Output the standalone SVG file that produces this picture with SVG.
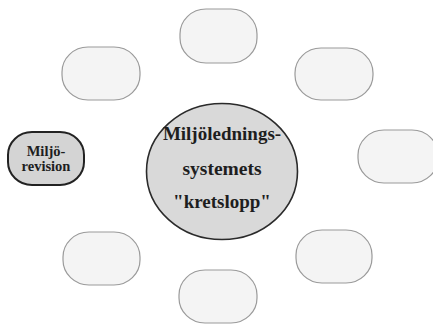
<svg xmlns="http://www.w3.org/2000/svg" width="433" height="325" viewBox="0 0 433 325">
  <style>
    .slot { fill: #f4f4f4; stroke: #9a9a9a; stroke-width: 1.2; }
    .core { fill: #d9d9d9; stroke: #2a2a2a; stroke-width: 1.6; }
    .audit { fill: #d4d4d4; stroke: #222; stroke-width: 2; }
    .lbl { font-family: "Liberation Serif", "Times New Roman", serif; font-weight: bold; fill: #1e1e1e; text-anchor: middle; }
  </style>
  <rect width="433" height="325" fill="#ffffff"/>

  <!-- empty process slots around the cycle -->
  <g id="slot-top"><rect class="slot" x="180" y="9" width="77" height="54" rx="26" ry="25"/></g>
  <g id="slot-upper-left"><rect class="slot" x="62" y="47" width="78" height="53" rx="26" ry="25"/></g>
  <g id="slot-upper-right"><rect class="slot" x="295" y="48" width="78" height="52" rx="26" ry="25"/></g>
  <g id="slot-right"><rect class="slot" x="358" y="130" width="80" height="53" rx="26" ry="25"/></g>
  <g id="slot-lower-left"><rect class="slot" x="63" y="232" width="77" height="53" rx="26" ry="25"/></g>
  <g id="slot-lower-right"><rect class="slot" x="296" y="230" width="76" height="53" rx="26" ry="25"/></g>
  <g id="slot-bottom"><rect class="slot" x="179" y="270" width="78" height="53" rx="26" ry="25"/></g>

  <!-- central cycle -->
  <g id="core">
    <ellipse class="core" cx="222" cy="171.5" rx="75.5" ry="68"/>
    <text class="lbl" x="222" y="140" font-size="19">Miljölednings-</text>
    <text class="lbl" x="222" y="175" font-size="19.5">systemets</text>
    <text class="lbl" x="222" y="208" font-size="19">"kretslopp"</text>
  </g>

  <!-- environmental audit -->
  <g id="audit">
    <rect class="audit" x="8" y="132" width="76" height="53" rx="24" ry="23"/>
    <text class="lbl" x="46" y="156" font-size="14.5">Miljö-</text>
    <text class="lbl" x="46" y="171" font-size="14.5">revision</text>
  </g>
</svg>
